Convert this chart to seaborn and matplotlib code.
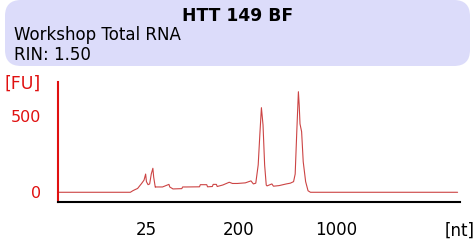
import pandas as pd
import matplotlib.pyplot as plt
import matplotlib.transforms as mtransforms
from matplotlib.patches import FancyBboxPatch
import seaborn as sns

# Electropherogram trace (migration time, fluorescence)
time_s = [20.1, 29.0, 29.3, 29.6, 29.9, 30.2, 30.4, 30.7, 30.9, 31.0, 31.2, 31.4,
          31.6, 31.8, 31.9, 32.1, 32.2, 33.0, 33.8, 33.9, 34.3, 35.4, 35.5, 35.9,
          36.0, 37.6, 37.7, 38.5, 38.6, 39.2, 39.3, 39.7, 39.8, 40.5, 41.3, 41.7,
          42.3, 43.3, 44.0, 44.3, 44.6, 44.9, 45.1, 45.3, 45.5, 45.7, 45.9, 46.0,
          46.6, 46.8, 47.5, 48.4, 48.9, 49.3, 49.5, 49.7, 49.9, 50.0, 50.1, 50.3,
          50.5, 50.8, 51.1, 51.4, 69.7]
fu = [0, 0, 10, 18, 25, 45, 58, 80, 120, 70, 50, 55,
      120, 158, 100, 33, 35, 35, 52, 35, 22, 24, 35, 35,
      35, 36, 50, 50, 36, 38, 52, 52, 38, 48, 66, 58,
      58, 62, 75, 55, 60, 180, 376, 557, 443, 180, 48, 42,
      55, 40, 44, 55, 60, 70, 120, 400, 662, 574, 450, 399,
      201, 70, 10, 0, 0]

tick_pos = [31.0, 42.4, 47.9, 54.6, 61.3, 69.9]
tick_labels = ["25", "200", "", "1000", "", "[nt]"]
y_ticks = [0, 500]

title = "HTT 149 BF"
subtitle = "Workshop Total RNA"
rin_text = "RIN: 1.50"

df = pd.DataFrame({"time": time_s, "FU": fu})

sns.set_style("white")
plt.rcParams['font.family'] = ['DejaVu Sans']
plt.rcParams['text.color'] = 'black'
plt.rcParams['xtick.color'] = 'black'

fig = plt.figure(figsize=(4.76, 2.45), dpi=100)
ax = fig.add_axes([58 / 476, 43 / 245, 402 / 476, 120 / 245])

sns.lineplot(data=df, x="time", y="FU", ax=ax, color="#cc4444", linewidth=0.8)

red = "#e01010"
ax.set_xlim(20, 70)
ax.set_ylim(-64, 726)
ax.set_xticks(tick_pos)
ax.set_xticklabels(tick_labels, fontsize=12, color="black")
ax.set_yticks(y_ticks)
ax.set_yticklabels([str(v) for v in y_ticks], fontsize=11.5, color=red)
ax.set_xlabel("")
ax.set_ylabel("")

for s in ["top", "right"]:
    ax.spines[s].set_visible(False)
ax.spines["left"].set_color(red)
ax.spines["left"].set_linewidth(1.5)
ax.spines["bottom"].set_color("black")
ax.spines["bottom"].set_linewidth(1.5)
ax.tick_params(axis="x", direction="out", length=10, width=1.5, color="black", pad=4)
ax.tick_params(axis="y", direction="out", length=10, width=1.5, color=red, pad=2)

fig.text(5 / 476, 1 - 84 / 245, "[FU]", color=red, fontsize=12.5, va="center", ha="left")

# header box
box = FancyBboxPatch((5, 179), 465, 66, boxstyle="round,pad=0,rounding_size=16",
                     transform=mtransforms.IdentityTransform(),
                     facecolor="#dcdcfa", edgecolor="none")
fig.add_artist(box)
fig.text(0.5, 1 - 16 / 245, title, fontsize=12.3, fontweight="bold", ha="center", va="center")
fig.text(14 / 476, 1 - 35 / 245, subtitle, fontsize=12, ha="left", va="center")
fig.text(14 / 476, 1 - 55 / 245, rin_text, fontsize=12, ha="left", va="center")

fig.savefig("out.png", dpi=100)
